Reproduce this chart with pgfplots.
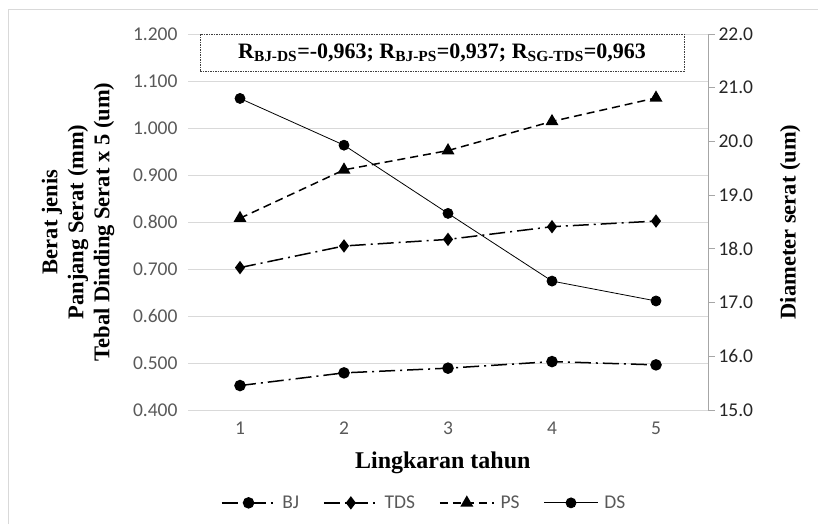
\documentclass[border=0pt]{standalone}
\usepackage{fontspec}
\setmainfont{Liberation Serif}
\newfontfamily\calibri{Carlito}
\usepackage{pgfplots}
\pgfplotsset{compat=1.18}
\definecolor{tickgray}{HTML}{595959}
\definecolor{gridgray}{HTML}{D9D9D9}
\definecolor{axgray}{HTML}{A6A6A6}
\begin{document}
\begin{tikzpicture}
\useasboundingbox (0pt,0pt) rectangle (818pt,524pt);
\draw[gridgray, line width=0.8pt] (8pt,0pt) -- (8pt,515pt) -- (818pt,515pt);
\begin{axis}[
  at={(188pt,114pt)}, anchor=south west,
  width=520pt, height=376pt, scale only axis,
  xmin=0.5, xmax=5.5, ymin=0.4, ymax=1.2,
  xtick={1,2,3,4,5},
  ytick={0.4,0.5,0.6,0.7,0.8,0.9,1.0,1.1,1.2},
  axis line style={draw=none},
  major tick length=0pt,
  ymajorgrids, grid style={gridgray, line width=0.8pt},
  /pgf/number format/assume math mode=true,
  yticklabel style={/pgf/number format/fixed, /pgf/number format/fixed zerofill, /pgf/number format/precision=3,
     font=\calibri\fontsize{19.5}{22}\selectfont, text=tickgray, xshift=-7pt},
  xticklabel style={font=\calibri\fontsize{19.5}{22}\selectfont, text=tickgray, yshift=-8pt},
  xlabel={Lingkaran tahun},
  xlabel style={font=\bfseries\fontsize{24}{28}\selectfont, at={(axis description cs:0.49,-0.141)}, anchor=center},
  ylabel={Berat jenis\\Panjang Serat (mm)\\Tebal Dinding Serat x 5 (um)},
  ylabel style={font=\bfseries\fontsize{22.5}{26}\selectfont, align=center, at={(axis description cs:-0.2115,0.5)}, anchor=center},
  legend style={at={(0.454,-0.247)}, anchor=center, draw=none, fill=none, legend columns=4,
     font=\calibri\fontsize{19.5}{22}\selectfont, text=tickgray,
     /tikz/every even column/.append style={column sep=22pt},
     /tikz/every odd column/.append style={column sep=4pt}},
  legend image code/.code={\draw[mark repeat=2,mark phase=2,#1] plot coordinates {(0pt,0pt) (27pt,0pt) (54pt,0pt)};},
  clip=false
]
\addplot[black, line width=1.5pt, dash pattern=on 16pt off 5pt on 2pt off 5pt, mark=*, mark size=5pt, mark options={solid}]
  coordinates {(1,0.452)(2,0.479)(3,0.489)(4,0.503)(5,0.496)};
\addlegendentry{BJ}
\addplot[black, line width=1.5pt, dash pattern=on 16pt off 5pt on 2pt off 5pt, mark=diamond*, mark size=5.5pt, mark options={solid}]
  coordinates {(1,0.703)(2,0.749)(3,0.763)(4,0.790)(5,0.802)};
\addlegendentry{TDS}
\addplot[black, line width=1.5pt, dash pattern=on 8pt off 5pt, mark=triangle*, mark size=6pt, mark options={solid}]
  coordinates {(1,0.808)(2,0.911)(3,0.952)(4,1.014)(5,1.064)};
\addlegendentry{PS}
\addlegendimage{black, line width=0.8pt, mark=*, mark size=5pt}
\addlegendentry{DS}
\end{axis}
\begin{axis}[
  at={(188pt,114pt)}, anchor=south west,
  width=520pt, height=376pt, scale only axis,
  xmin=0.5, xmax=5.5, ymin=15, ymax=22,
  axis y line*=right, axis x line=none,
  ytick={15,16,17,18,19,20,21,22},
  y axis line style={axgray, line width=0.8pt},
  ytick style={axgray, line width=0.8pt},
  tick align=outside, major tick length=7pt,
  /pgf/number format/assume math mode=true,
  yticklabel style={/pgf/number format/fixed, /pgf/number format/fixed zerofill, /pgf/number format/precision=1,
     font=\calibri\fontsize{19.5}{22}\selectfont, text=black!85},
  ylabel={Diameter serat (um)},
  ylabel style={font=\bfseries\fontsize{22.5}{26}\selectfont, at={(axis description cs:1.158,0.5)}, anchor=center},
  clip=false
]
\addplot[black, line width=0.8pt, mark=*, mark size=5pt]
  coordinates {(1,20.80)(2,19.93)(3,18.66)(4,17.40)(5,17.03)};
\end{axis}
\node[draw=black!75, dash pattern=on 1.5pt off 1pt, line width=0.6pt, fill=white,
  minimum width=484pt, minimum height=37pt, inner sep=0pt,
  font=\bfseries\fontsize{22}{26}\selectfont] at (442pt,471pt)
  {R\textsubscript{BJ-DS}=-0,963; R\textsubscript{BJ-PS}=0,937; R\textsubscript{SG-TDS}=0,963};
\end{tikzpicture}
\end{document}
